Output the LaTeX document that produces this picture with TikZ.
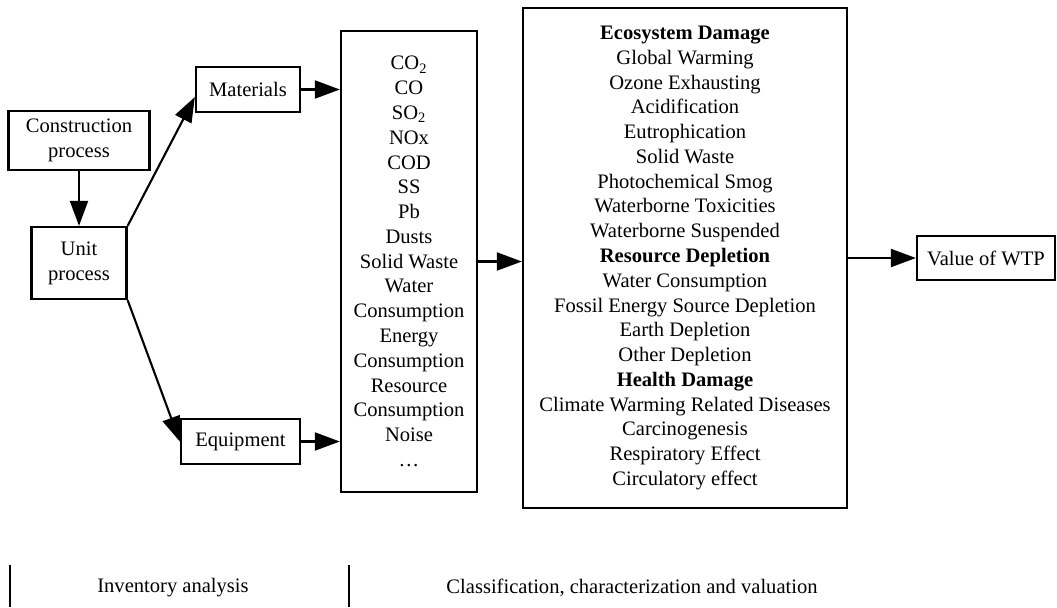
\documentclass[tikz,border=0pt]{standalone}
\usepackage{fontspec}
\setmainfont{Liberation Serif}
\usetikzlibrary{arrows.meta, positioning, calc}

\begin{document}
\begin{tikzpicture}[>={Triangle[length=0.5cm, width=0.36cm]},
  every node/.style={font=\fontsize{11.7pt}{14.1pt}\selectfont},
  stage/.style={draw, line width=1.3pt, align=center, inner sep=0pt},
  flow/.style={->, line width=1.2pt}]
  \useasboundingbox (0,0) rectangle (21.14,12.14);

  % Inventory side
  \node[stage, minimum width=2.82cm, minimum height=1.18cm] (constr) at (1.58, 9.33)
    {Construction\\process};
  \node[stage, minimum width=1.9cm, minimum height=1.44cm] (unit) at (1.58, 6.88)
    {Unit\\process};
  \node[stage, minimum width=2.08cm, minimum height=0.9cm] (mat) at (4.96, 10.35)
    {Materials};
  \node[stage, minimum width=2.38cm, minimum height=0.9cm] (equip) at (4.81, 3.31)
    {Equipment};

  % Emissions list
  \node[stage, minimum width=2.72cm, minimum height=9.22cm] (inv) at (8.18, 6.91)
    {CO\textsubscript{2}\\CO\\SO\textsubscript{2}\\NOx\\COD\\SS\\Pb\\Dusts\\Solid Waste\\
     Water\\Consumption\\Energy\\Consumption\\Resource\\Consumption\\Noise\\\dots};

  % Damage categories
  \node[stage, minimum width=6.48cm, minimum height=10cm] (dmg) at (13.70, 6.98)
    {\textbf{Ecosystem Damage}\\Global Warming\\Ozone Exhausting\\Acidification\\
     Eutrophication\\Solid Waste\\Photochemical Smog\\Waterborne Toxicities\\
     Waterborne Suspended\\\textbf{Resource Depletion}\\Water Consumption\\
     Fossil Energy Source Depletion\\Earth Depletion\\Other Depletion\\
     \textbf{Health Damage}\\Climate Warming Related Diseases\\Carcinogenesis\\
     Respiratory Effect\\Circulatory effect};

  \node[stage, minimum width=2.76cm, minimum height=0.88cm] (wtp) at (19.72, 6.98)
    {Value of WTP};

  % Arrows
  \draw[flow] (constr.south) -- (unit.north);
  \draw[flow] (unit.north east) -- ([yshift=-0.15cm]mat.west);
  \draw[flow] (unit.south east) -- (equip.west);
  \draw[flow] (mat.east) -- (mat.east -| inv.west);
  \draw[flow] (equip.east) -- (equip.east -| inv.west);
  \draw[flow] (inv.east) -- (inv.east -| dmg.west);
  \draw[flow] (dmg.east |- wtp.west) -- (wtp.west);

  % Phases
  \draw[line width=0.9pt] (0.2, 0) -- (0.2, 0.84);
  \draw[line width=0.9pt] (6.98, 0) -- (6.98, 0.84);
  \node (invlabel) at (3.46, 0.38) {Inventory analysis};
  \node (cclabel) at (12.64, 0.38) {Classification, characterization and valuation};
\end{tikzpicture}
\end{document}
